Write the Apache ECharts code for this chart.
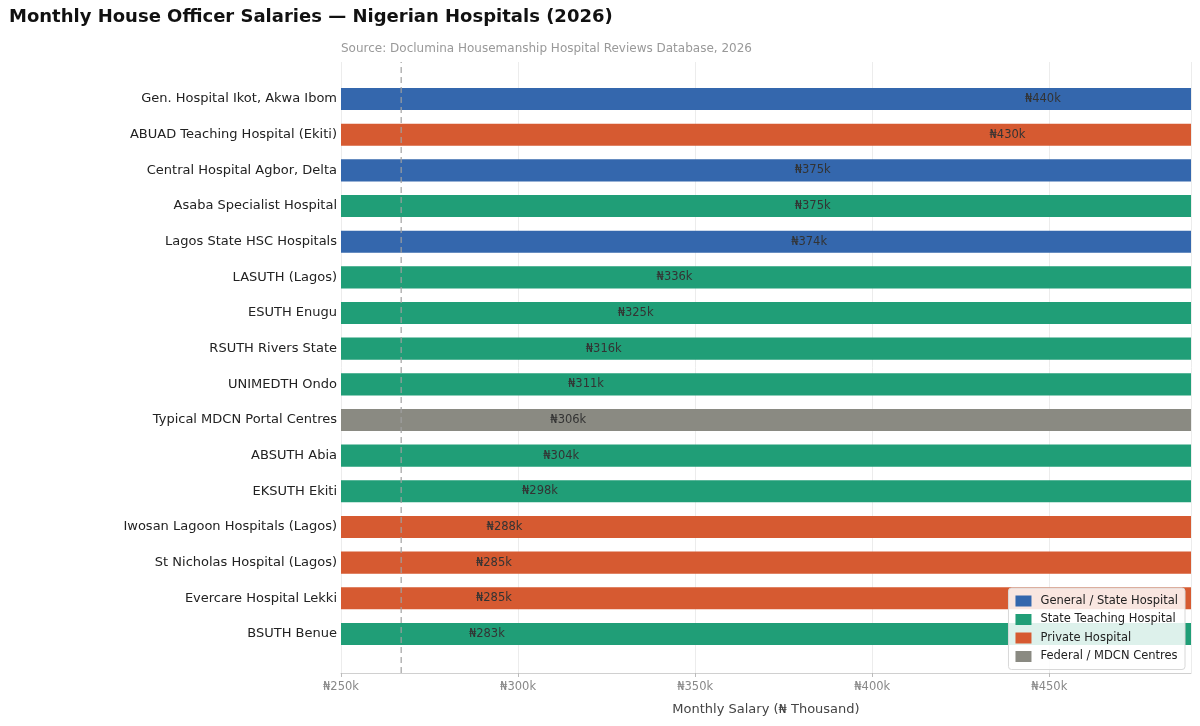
<!DOCTYPE html>
<html>
<head>
<meta charset="utf-8">
<script src="https://cdn.jsdelivr.net/npm/echarts@6/dist/echarts.min.js"></script>
<style>
  html, body { margin: 0; padding: 0; background: #fff; }
  #chart { width: 1200px; height: 726px; }
</style>
</head>
<body>
<div id="chart"></div>
<script>
// ---- data ----
const hospitals = [
  'Gen. Hospital Ikot, Akwa Ibom',
  'ABUAD Teaching Hospital (Ekiti)',
  'Central Hospital Agbor, Delta',
  'Asaba Specialist Hospital',
  'Lagos State HSC Hospitals',
  'LASUTH (Lagos)',
  'ESUTH Enugu',
  'RSUTH Rivers State',
  'UNIMEDTH Ondo',
  'Typical MDCN Portal Centres',
  'ABSUTH Abia',
  'EKSUTH Ekiti',
  'Iwosan Lagoon Hospitals (Lagos)',
  'St Nicholas Hospital (Lagos)',
  'Evercare Hospital Lekki',
  'BSUTH Benue'
];
const salaries = [440, 430, 375, 375, 374, 336, 325, 316, 311, 306, 304, 298, 288, 285, 285, 283];
const hospitalTypes = [
  'General / State Hospital', 'Private Hospital', 'General / State Hospital', 'State Teaching Hospital',
  'General / State Hospital', 'State Teaching Hospital', 'State Teaching Hospital', 'State Teaching Hospital',
  'State Teaching Hospital', 'Federal / MDCN Centres', 'State Teaching Hospital', 'State Teaching Hospital',
  'Private Hospital', 'Private Hospital', 'Private Hospital', 'State Teaching Hospital'
];
const typeNames = ['General / State Hospital', 'State Teaching Hospital', 'Private Hospital', 'Federal / MDCN Centres'];
const refLine = 267;
const X_MIN = 250;
const X_MAX = 490;

// ---- style ----
const FONT = 'DejaVu Sans';
const TYPE_COLORS = {
  'General / State Hospital': '#3467ad',
  'State Teaching Hospital': '#209e77',
  'Private Hospital': '#d65a31',
  'Federal / MDCN Centres': '#8a8a82'
};
const BAR_RATIO = 0.62;
const LABEL_OFFSET = 11;

const chart = echarts.init(document.getElementById('chart'), null, { renderer: 'canvas' });

// each bar fills the whole plot width, the value label sits just right of the value
function renderBar(params, api) {
  const idx = api.value(0);
  const v = api.value(1);
  const left = api.coord([X_MIN, idx]);
  const right = api.coord([X_MAX, idx]);
  const at = api.coord([v, idx]);
  const h = api.size([0, 1])[1] * BAR_RATIO;
  return {
    type: 'group',
    children: [
      {
        type: 'rect',
        shape: { x: left[0], y: left[1] - h / 2, width: right[0] - left[0], height: h },
        style: { fill: TYPE_COLORS[hospitalTypes[idx]] }
      },
      {
        type: 'text',
        x: at[0] + LABEL_OFFSET, y: at[1],
        style: {
          text: '₦' + v + 'k',
          fill: '#333',
          font: '11.5px "' + FONT + '"',
          verticalAlign: 'middle',
          align: 'left'
        }
      }
    ]
  };
}

const legendSeries = typeNames.map(n => ({
  type: 'bar', name: n,
  xAxisIndex: 1, yAxisIndex: 1,
  itemStyle: { color: TYPE_COLORS[n] },
  data: []
}));

const option = {
  backgroundColor: '#fff',
  animation: false,
  textStyle: { fontFamily: FONT },
  title: [
    {
      text: 'Monthly House Officer Salaries — Nigerian Hospitals (2026)',
      left: 9, top: 8, padding: 0,
      textStyle: { fontFamily: FONT, fontSize: 18, fontWeight: 'bold', color: '#111' }
    },
    {
      text: 'Source: Doclumina Housemanship Hospital Reviews Database, 2026',
      left: 341, top: 43, padding: 0,
      textStyle: { fontFamily: FONT, fontSize: 12, fontWeight: 'normal', color: '#999' }
    }
  ],
  legend: {
    data: typeNames.map(n => ({ name: n, icon: 'rect' })),
    orient: 'vertical',
    right: 15, top: 588,
    z: 30,
    itemWidth: 16, itemHeight: 11, itemGap: 6.5,
    padding: [7, 7, 7, 7],
    backgroundColor: 'rgba(255,255,255,0.85)',
    borderColor: '#d8d8d8', borderWidth: 1, borderRadius: 3,
    textStyle: { fontFamily: FONT, fontSize: 11.5, color: '#222', padding: [0, 0, 0, 4] },
    selectedMode: false
  },
  grid: [
    { left: 341, right: 9, top: 62, bottom: 53 },
    { left: 341, right: 9, top: 81.2, bottom: 74.2 }
  ],
  xAxis: [
    {
      gridIndex: 0, type: 'value', min: X_MIN, max: X_MAX, interval: 50,
      name: 'Monthly Salary (₦ Thousand)',
      nameLocation: 'middle', nameGap: 30,
      nameTextStyle: { fontFamily: FONT, fontSize: 13, color: '#444' },
      axisLine: { show: true, lineStyle: { color: '#d0d0d0' } },
      axisTick: { show: true, length: 4, lineStyle: { color: '#bbb' } },
      axisLabel: {
        margin: 8, fontFamily: FONT, fontSize: 11.5, color: '#888',
        showMaxLabel: false,
        formatter: v => '₦' + v + 'k'
      },
      splitLine: { show: true, lineStyle: { color: '#ececec', width: 1 } }
    },
    {
      gridIndex: 1, type: 'value', min: X_MIN, max: X_MAX,
      show: false
    }
  ],
  yAxis: [
    { gridIndex: 0, type: 'value', min: 0, max: 1, show: false },
    {
      gridIndex: 1, type: 'category', data: hospitals, inverse: true,
      axisLine: { show: false },
      axisTick: { show: false },
      axisLabel: { margin: 4, fontFamily: FONT, fontSize: 13, color: '#222' },
      splitLine: { show: false }
    }
  ],
  series: [
    {
      type: 'custom', name: 'salary',
      xAxisIndex: 1, yAxisIndex: 1,
      renderItem: renderBar,
      encode: { x: 1, y: 0 },
      data: salaries.map((v, i) => [i, v]),
      z: 2, silent: true
    },
    ...legendSeries,
    {
      type: 'line', name: 'ref',
      xAxisIndex: 0, yAxisIndex: 0,
      data: [[refLine, 0], [refLine, 1]],
      symbol: 'none',
      lineStyle: { color: 'rgba(160,160,160,0.8)', width: 1.5, type: [6, 4] },
      z: 20, silent: true
    }
  ]
};

chart.setOption(option);
</script>
</body>
</html>
